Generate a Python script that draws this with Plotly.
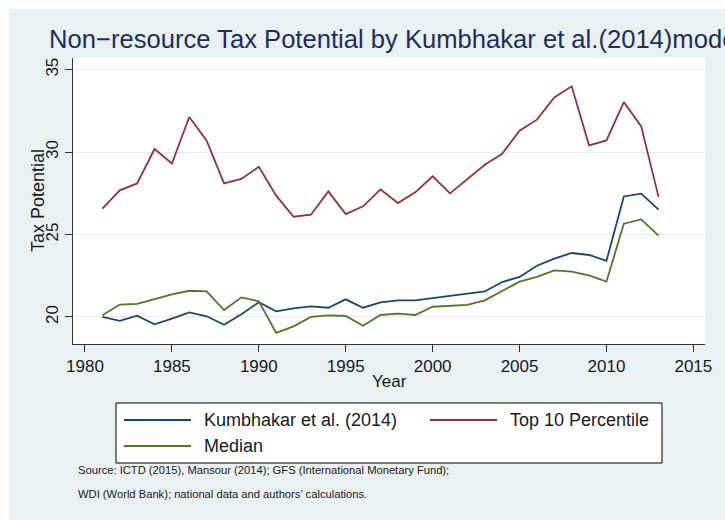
import plotly.graph_objects as go

years = [1981, 1982, 1983, 1984, 1985, 1986, 1987, 1988, 1989, 1990, 1991,
         1992, 1993, 1994, 1995, 1996, 1997, 1998, 1999, 2000, 2001, 2002,
         2003, 2004, 2005, 2006, 2007, 2008, 2009, 2010, 2011, 2012, 2013]

kumbhakar = [20.00, 19.76, 20.08, 19.55, 19.90, 20.28, 20.04, 19.53, 20.16, 20.89,
             20.34, 20.52, 20.64, 20.56, 21.07, 20.56, 20.89, 21.01, 21.01, 21.15,
             21.27, 21.41, 21.55, 22.12, 22.43, 23.11, 23.54, 23.88, 23.76, 23.40,
             27.31, 27.48, 26.51]

top10 = [26.57, 27.68, 28.10, 30.19, 29.31, 32.13, 30.69, 28.10, 28.37, 29.11,
         27.36, 26.08, 26.20, 27.62, 26.24, 26.71, 27.74, 26.91, 27.56, 28.53,
         27.50, 28.37, 29.23, 29.90, 31.30, 31.97, 33.32, 33.99, 30.41, 30.71,
         33.04, 31.56, 27.27]

median = [20.10, 20.75, 20.79, 21.07, 21.37, 21.59, 21.55, 20.42, 21.19, 20.95,
          19.03, 19.43, 20.00, 20.10, 20.06, 19.47, 20.12, 20.20, 20.12, 20.62,
          20.67, 20.73, 21.01, 21.55, 22.14, 22.43, 22.83, 22.75, 22.52, 22.14,
          25.66, 25.92, 24.93]

series_names = ["Kumbhakar et al. (2014)", "Top 10 Percentile", "Median"]
series_colors = ["#1A476F", "#90353B", "#55752F"]

x_ticks = [1980, 1985, 1990, 1995, 2000, 2005, 2010, 2015]
y_ticks = [20, 25, 30, 35]

title_text = "Non\u2212resource Tax Potential by Kumbhakar et al.(2014)model"
y_title = "Tax Potential"
x_title = "Year"
source_lines = ["Source: ICTD (2015), Mansour (2014); GFS (International Monetary Fund);",
                "WDI (World Bank); national data and authors\u2019 calculations."]

FONT = "Liberation Sans, Arial, Helvetica, sans-serif"
BG = "#EAF1F3"
TXT = "#1a1a1a"

# plot area in pixels
W, H = 725, 520
L, R, T, B = 73, 705, 58, 344
PW, PH = R - L, B - T


def px(x):
    return (x - L) / PW


def py(y):
    return (B - y) / PH


fig = go.Figure()
for name, vals, col in zip(series_names, [kumbhakar, top10, median], series_colors):
    fig.add_trace(go.Scatter(x=years, y=vals, mode="lines", name=name,
                             line=dict(color=col, width=1.8), showlegend=False))

shapes = []
annotations = []

# white outer strip (top/left)
shapes.append(dict(type="rect", xref="paper", yref="paper", x0=px(-5), x1=px(W + 5),
                   y0=py(9), y1=py(-5), fillcolor="white", line=dict(width=0), layer="below"))
shapes.append(dict(type="rect", xref="paper", yref="paper", x0=px(-5), x1=px(9),
                   y0=py(H + 5), y1=py(-5), fillcolor="white", line=dict(width=0), layer="below"))

# legend box
shapes.append(dict(type="rect", xref="paper", yref="paper", x0=px(116), x1=px(662),
                   y0=py(463), y1=py(403), fillcolor="white",
                   line=dict(color="black", width=1)))
leg_pos = [(124, 191, 420, 202), (430, 497, 420, 508), (124, 191, 446, 202)]
for (x0, x1, yy, tx), name, col in zip(leg_pos, series_names, series_colors):
    shapes.append(dict(type="line", xref="paper", yref="paper", x0=px(x0), x1=px(x1),
                       y0=py(yy), y1=py(yy), line=dict(color=col, width=1.8)))
    annotations.append(dict(text=name, xref="paper", yref="paper", x=px(tx), y=py(yy),
                            xanchor="left", yanchor="middle", showarrow=False,
                            font=dict(family=FONT, size=18, color=TXT)))

# title
annotations.append(dict(text=title_text, xref="paper", yref="paper", x=px(47), y=py(39),
                        xanchor="left", yanchor="middle", showarrow=False,
                        font=dict(family=FONT, size=25.6, color="#1E2E5C")))
# axis titles
annotations.append(dict(text=y_title, xref="paper", yref="paper", x=px(38), y=py(201),
                        xanchor="center", yanchor="middle", showarrow=False, textangle=-90,
                        font=dict(family=FONT, size=18, color=TXT)))
annotations.append(dict(text=x_title, xref="paper", yref="paper", x=px(389), y=py(381),
                        xanchor="center", yanchor="middle", showarrow=False,
                        font=dict(family=FONT, size=17, color=TXT)))
# source
for i, s in enumerate(source_lines):
    annotations.append(dict(text=s, xref="paper", yref="paper", x=px(76), y=py(470 + 24 * i),
                            xanchor="left", yanchor="middle", showarrow=False,
                            font=dict(family=FONT, size=11.2, color=TXT)))

fig.update_layout(
    width=W, height=H,
    margin=dict(l=L, r=W - R, t=T, b=H - B, pad=0),
    paper_bgcolor=BG, plot_bgcolor="white",
    font=dict(family=FONT, color=TXT),
    shapes=shapes, annotations=annotations,
    showlegend=False,
)
fig.update_xaxes(range=[1979.31, 2015.67], tickvals=x_ticks, ticks="outside", ticklen=7,
                 tickcolor="#333", showline=True, linecolor="#333", linewidth=1,
                 showgrid=False, zeroline=False, tickfont=dict(size=17, color=TXT))
fig.update_yaxes(range=[18.36, 35.71], tickvals=y_ticks, ticks="outside", ticklen=7,
                 tickcolor="#333", showline=True, linecolor="#333", linewidth=1,
                 showgrid=True, gridcolor="#E3ECEF", gridwidth=1.2, zeroline=False,
                 tickangle=-90, tickfont=dict(size=17, color=TXT))

fig.write_html("out.html", config={"displayModeBar": False},
               post_script="document.body.style.margin='0';document.body.style.overflow='hidden';")
